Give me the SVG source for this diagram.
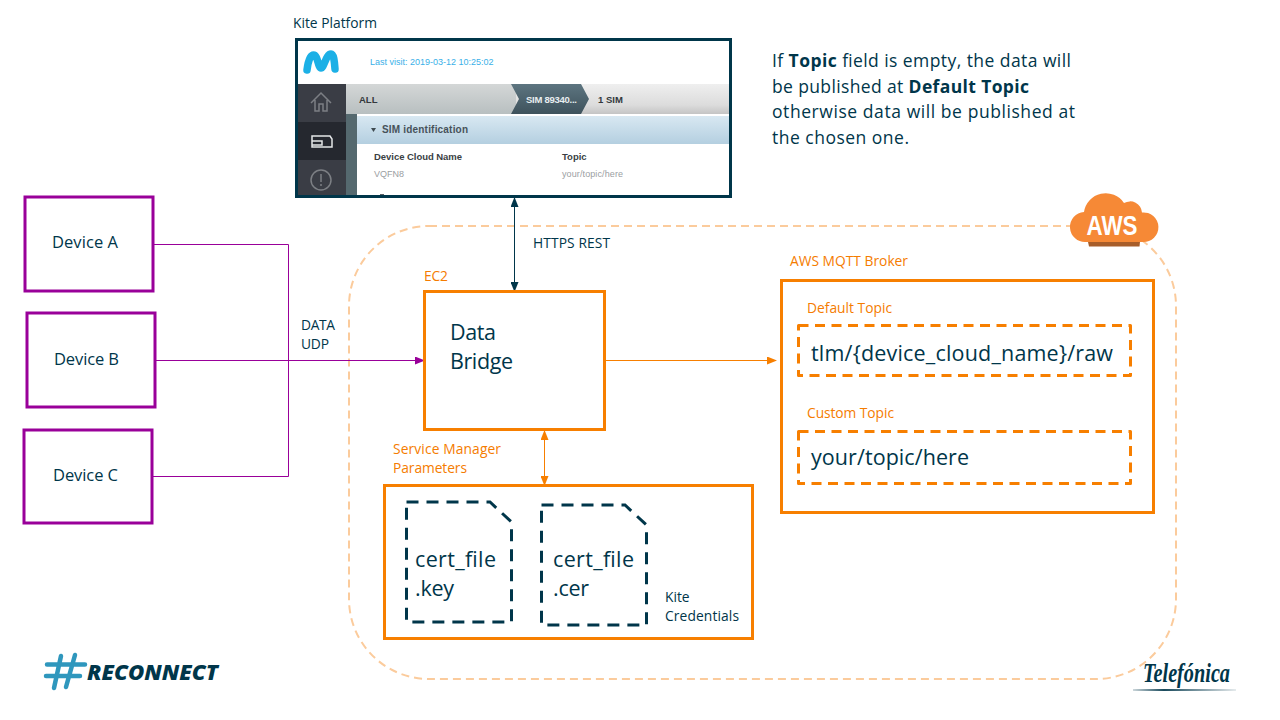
<svg xmlns="http://www.w3.org/2000/svg" width="1280" height="720" viewBox="0 0 1280 720">
<style>
text{font-family:"Open Sans","Noto Sans","DejaVu Sans",sans-serif;fill:#00364a}
.o{fill:#f57c00}
.s13{font-size:13.800px}.s16{font-size:16.500px}.s20{font-size:21.500px}.s17{font-size:17.500px}
.dev{fill:#fff;stroke:#990099;stroke-width:3}
.box{fill:#fff;stroke:#f77f00;stroke-width:3}
.dash{fill:none;stroke:#f77f00;stroke-width:3;stroke-dasharray:10 6.500;stroke-linejoin:round}
.doc{fill:none;stroke:#00364a;stroke-width:3;stroke-dasharray:12 8}
.ui{font-family:"Liberation Sans",Arial,sans-serif}
.m{fill:none;stroke:#990099;stroke-width:1}
</style>
<defs>
<marker id="ap" markerWidth="10" markerHeight="8" refX="9" refY="4" orient="auto" markerUnits="userSpaceOnUse"><path d="M0 0L10 4L0 8z" fill="#990099"/></marker>
<marker id="ao" markerWidth="10" markerHeight="8" refX="9" refY="4" orient="auto-start-reverse" markerUnits="userSpaceOnUse"><path d="M0 0L10 4L0 8z" fill="#f77f00"/></marker>
<marker id="an" markerWidth="10" markerHeight="8" refX="9" refY="4" orient="auto-start-reverse" markerUnits="userSpaceOnUse"><path d="M0 0L10 4L0 8z" fill="#00364a"/></marker>
<linearGradient id="g1" x1="0" y1="0" x2="0" y2="1"><stop offset="0" stop-color="#d4d7d7"/><stop offset="1" stop-color="#b8bfc0"/></linearGradient>
<linearGradient id="g1b" x1="0" y1="0" x2="0" y2="1"><stop offset="0" stop-color="#efefef"/><stop offset=".7" stop-color="#dcdcdc"/><stop offset="1" stop-color="#c4c4c4"/></linearGradient>
<linearGradient id="g2" x1="0" y1="0" x2="0" y2="1"><stop offset="0" stop-color="#5d7580"/><stop offset="1" stop-color="#3e525c"/></linearGradient>
<linearGradient id="g3" x1="0" y1="0" x2="0" y2="1"><stop offset="0" stop-color="#d8e8f2"/><stop offset="1" stop-color="#b4cfe0"/></linearGradient>
<linearGradient id="g4" x1="0" y1="0" x2="1" y2="0"><stop offset="0" stop-color="#00364a" stop-opacity=".2"/><stop offset=".3" stop-color="#00364a" stop-opacity=".9"/><stop offset="1" stop-color="#00364a" stop-opacity=".1"/></linearGradient>
</defs>
<rect width="1280" height="720" fill="#fff"/>

<g id="aws-region"><rect x="349" y="226" width="827" height="453" rx="80" ry="80" fill="none" stroke="#fbcb9c" stroke-width="2" stroke-dasharray="8 5"/></g>

<g id="aws-logo">
<path d="M1088 242H1140L1139.500 246.500H1089z" fill="#a75d2a"/>
<path d="M1086 242A15 15 0 0 1 1084 212A22 22 0 0 1 1124 203A12 12 0 0 1 1142 212.500A14.800 14.800 0 1 1 1143 242Z" fill="#f68936"/>
<text x="1112" y="235" text-anchor="middle" style="font-family:'Liberation Sans',Arial,sans-serif;font-size:27px;font-weight:700;fill:#fff" textLength="51" lengthAdjust="spacingAndGlyphs">AWS</text>
</g>

<g id="connectors">
<path class="m" d="M154 244.500H288.500V476.500H153"/>
<path class="m" d="M156 360.500H424" marker-end="url(#ap)"/>
<path d="M606 360.500H776" fill="none" stroke="#f77f00" stroke-width="1" marker-end="url(#ao)"/>
<path d="M544.500 431V485" fill="none" stroke="#f77f00" stroke-width="1" marker-start="url(#ao)" marker-end="url(#ao)"/>
<path d="M514.500 198V291" fill="none" stroke="#00364a" stroke-width="1" marker-start="url(#an)" marker-end="url(#an)"/>
</g>

<g id="kite-platform">
<text class="s13" x="293" y="28" textLength="84">Kite Platform</text>
<rect x="297" y="40" width="433" height="156" fill="#fff"/>
<path d="M307 70C308 62 310 55 313.500 55C318 55 318 68 321 68C324 68 326 54 331 54C334 54 334.500 63 335 69" fill="none" stroke="#1cb0e6" stroke-width="7.500" stroke-linecap="round"/>
<text class="ui" x="370" y="65" style="font-size:9px;fill:#39b0e8">Last visit: 2019-03-12 10:25:02</text>
<rect x="297" y="84" width="49" height="112" fill="#3a3d45"/>
<rect x="297" y="122" width="49" height="38" fill="#25282f"/>
<rect x="346" y="84" width="384" height="30" fill="url(#g1b)"/>
<rect x="346" y="84" width="170" height="30" fill="url(#g1)"/>
<rect x="346" y="114" width="11" height="82" fill="#55696f"/>
<rect x="357" y="116" width="373" height="28" fill="url(#g3)"/>
<path d="M511 84h70l8 15l-8 15h-70l8-15z" fill="url(#g2)"/>
<g fill="none" stroke="#7c7f84" stroke-width="1.500">
<path d="M311 103l10-10l10 10M315 100v11h4v-7h4v7h4v-11"/>
<circle cx="321" cy="180" r="10"/><path d="M321 174v8M321 184v2"/>
</g>
<path d="M312 136h18l2 3v8h-20zM312 141h10v4h-10" fill="none" stroke="#e4e6e8" stroke-width="1.500"/>
<text class="ui" x="359" y="103" style="font-size:9.500px;font-weight:700;fill:#33383c">ALL</text>
<text class="ui" x="526" y="103" style="font-size:9.500px;font-weight:700;fill:#e8eef0" textLength="51">SIM 89340...</text>
<text class="ui" x="598" y="103" style="font-size:9.500px;font-weight:700;fill:#33383c">1 SIM</text>
<path d="M371 128h5l-2.500 4z" fill="#3f4a50"/>
<text class="ui" x="382" y="133" style="font-size:10px;font-weight:700;fill:#47525a" textLength="86">SIM identification</text>
<text class="ui" x="374" y="160" style="font-size:9.500px;font-weight:700;fill:#3a3f44" textLength="88">Device Cloud Name</text>
<text class="ui" x="562" y="160" style="font-size:9.500px;font-weight:700;fill:#3a3f44">Topic</text>
<text class="ui" x="374" y="177" style="font-size:9px;fill:#9a9ea2">VQFN8</text>
<text class="ui" x="562" y="177" style="font-size:9px;fill:#9a9ea2" textLength="61">your/topic/here</text>
<rect x="380" y="194" width="4" height="2" fill="#5a5f64"/>
<rect x="296.500" y="39.500" width="434" height="157" fill="none" stroke="#00364a" stroke-width="3"/>
</g>

<g id="note">
<text class="s17" x="772" y="67" textLength="299">If <tspan font-weight="700">Topic</tspan> field is empty, the data will</text>
<text class="s17" x="772" y="93" textLength="257">be published  at <tspan font-weight="700">Default Topic</tspan></text>
<text class="s17" x="772" y="118" textLength="303">otherwise data will be published at</text>
<text class="s17" x="772" y="144" textLength="137">the chosen one.</text>
</g>

<g id="device-a"><rect class="dev" x="25" y="197" width="128" height="94"/><text class="s16" x="52" y="248" textLength="66">Device A</text></g>
<g id="device-b"><rect class="dev" x="27" y="313" width="128" height="94"/><text class="s16" x="54" y="365" textLength="65">Device B</text></g>
<g id="device-c"><rect class="dev" x="24" y="430" width="128" height="93"/><text class="s16" x="53" y="481" textLength="65">Device C</text></g>

<g id="edge-labels">
<text class="s13" x="301" y="330" textLength="34">DATA</text>
<text class="s13" x="301" y="349" textLength="28">UDP</text>
<text class="s13" x="533" y="248" textLength="77">HTTPS REST</text>
</g>

<g id="data-bridge">
<text class="s13 o" x="424" y="281" textLength="24">EC2</text>
<rect class="box" x="424.500" y="291.500" width="180" height="138"/>
<text class="s20" x="450" y="340" textLength="46">Data</text>
<text class="s20" x="450" y="369" textLength="63">Bridge</text>
</g>

<g id="mqtt-broker">
<text class="s13 o" x="790" y="266" textLength="118">AWS MQTT Broker</text>
<rect class="box" x="781.500" y="280.500" width="372" height="232"/>
<text class="s13 o" x="807" y="313" textLength="85">Default Topic</text>
<rect class="dash" x="798.500" y="325.500" width="332" height="50"/>
<text class="s20" x="811" y="361" textLength="302">tlm/{device_cloud_name}/raw</text>
<text class="s13 o" x="807" y="418" textLength="87">Custom Topic</text>
<rect class="dash" x="798.500" y="431.500" width="332" height="52"/>
<text class="s20" x="811" y="465" textLength="158">your/topic/here</text>
</g>

<g id="credentials">
<text class="s13 o" x="393" y="454" textLength="108">Service Manager</text>
<text class="s13 o" x="393" y="473" textLength="74">Parameters</text>
<rect class="box" x="384.500" y="485.500" width="368" height="153"/>
<path class="doc" d="M406.500 502H490L511.500 522V622H406.500z"/>
<path class="doc" d="M541.500 505H625L646.500 525V625H541.500z"/>
<text class="s20" x="415" y="567" textLength="81">cert_file</text>
<text class="s20" x="415" y="596" textLength="39">.key</text>
<text class="s20" x="553" y="567" textLength="81">cert_file</text>
<text class="s20" x="553" y="596" textLength="36">.cer</text>
<text class="s13" x="665" y="602">Kite</text>
<text class="s13" x="665" y="621" textLength="74">Credentials</text>
</g>

<g id="reconnect-logo">
<g fill="none" stroke="#2f97bd" stroke-width="4.500" stroke-linecap="round">
<path d="M61 656L54 688M75 655L66 687M47 664.500H85M46 676H80"/>
</g>
<text x="87" y="680" style="font-family:'Open Sans',sans-serif;font-size:21px;font-weight:800;font-style:italic" textLength="131" lengthAdjust="spacingAndGlyphs">RECONNECT</text>
</g>

<g id="telefonica-logo">
<text x="1143" y="682" style="font-family:'Liberation Serif',serif;font-size:28px;font-style:italic;font-weight:700" textLength="87" lengthAdjust="spacingAndGlyphs">Telefónica</text>
<rect x="1133" y="689" width="103" height="2" fill="url(#g4)"/>
</g>
</svg>
